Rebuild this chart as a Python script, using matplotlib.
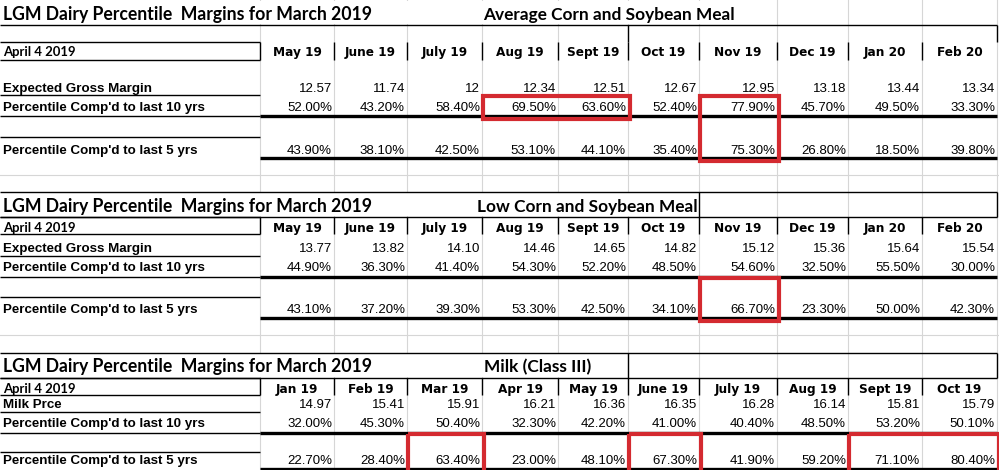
import matplotlib.pyplot as plt
from matplotlib.patches import Rectangle

# ---- sheet content ----
sheet_title = "LGM Dairy Percentile  Margins for March 2019"
as_of = "April 4 2019"
section_names = ["Average Corn and Soybean Meal", "Low Corn and Soybean Meal", "Milk (Class III)"]
price_labels = ["Expected Gross Margin", "Expected Gross Margin", "Milk Prce"]
pct10_label = "Percentile Comp'd to last 10 yrs"
pct5_label = "Percentile Comp'd to last 5 yrs"

feed_months = ["May 19", "June 19", "July 19", "Aug 19", "Sept 19", "Oct 19", "Nov 19", "Dec 19", "Jan 20", "Feb 20"]
milk_months = ["Jan 19", "Feb 19", "Mar 19", "Apr 19", "May 19", "June 19", "July 19", "Aug 19", "Sept 19", "Oct 19"]

avg_margin = [12.57, 11.74, 12, 12.34, 12.51, 12.67, 12.95, 13.18, 13.44, 13.34]
avg_pct10 = [52.0, 43.2, 58.4, 69.5, 63.6, 52.4, 77.9, 45.7, 49.5, 33.3]
avg_pct5 = [43.9, 38.1, 42.5, 53.1, 44.1, 35.4, 75.3, 26.8, 18.5, 39.8]

low_margin = [13.77, 13.82, 14.10, 14.46, 14.65, 14.82, 15.12, 15.36, 15.64, 15.54]
low_pct10 = [44.9, 36.3, 41.4, 54.3, 52.2, 48.5, 54.6, 32.5, 55.5, 30.0]
low_pct5 = [43.1, 37.2, 39.3, 53.3, 42.5, 34.1, 66.7, 23.3, 50.0, 42.3]

milk_price = [14.97, 15.41, 15.91, 16.21, 16.36, 16.35, 16.28, 16.14, 15.81, 15.79]
milk_pct10 = [32.0, 45.3, 50.4, 32.3, 42.2, 41.0, 40.4, 48.5, 53.2, 50.1]
milk_pct5 = [22.7, 28.4, 63.4, 23.0, 48.1, 67.3, 41.9, 59.2, 71.1, 80.4]

data = [
    (feed_months, avg_margin, avg_pct10, avg_pct5, "{:g}"),
    (feed_months, low_margin, low_pct10, low_pct5, "{:.2f}"),
    (milk_months, milk_price, milk_pct10, milk_pct5, "{:.2f}"),
]

# cells circled in red: (section, first row, last row, first col, last col)
highlights = [
    (0, "p10", "p10", 3, 4),
    (0, "p10", "p5", 6, 6),
    (1, "blank", "p5", 6, 6),
    (2, "blank", "p5", 2, 2),
    (2, "blank", "p5", 5, 5),
    (2, "blank", "p5", 8, 9),
]

# ---- sheet geometry (pixels) ----
W, H = 999, 470
col_edges = [260, 334, 407, 482, 558, 628, 699, 777, 848, 922, 997]
right = col_edges[-1]
layout = [
    dict(top=None, title_base=20, title_bottom=25, name_x=483, box=(628, 25, 42),
         head=(42, 60, 56), price=(78, 95, 92), p10=(95, 116, 111), blank=(116, 137, 0), p5=(137, 158, 154)),
    dict(top=192, title_base=212, title_bottom=217, name_x=477, box=(699, 192, 217),
         head=(217, 234, 232), price=(234, 256, 252), p10=(256, 277, 271), blank=(277, 297, 0), p5=(297, 318, 313)),
    dict(top=353, title_base=372, title_bottom=378, name_x=484, box=(628, 353, 378),
         head=(378, 395, 393), price=(395, 412, 408), p10=(412, 433, 427), blank=(433, 452, 0), p5=(452, 469, 464)),
]
gap_lines = [175, 335]

GRID = "#d6d6d6"
RED = "#d42a30"

fig = plt.figure(figsize=(W / 100, H / 100), dpi=100)
ax = fig.add_axes([0, 0, 1, 1])
ax.set_xlim(0, W)
ax.set_ylim(H, 0)
ax.axis("off")
renderer = fig.canvas.get_renderer()


def fit(text, target, **kw):
    # font size that makes `text` span `target` pixels
    t = ax.text(0, 0, text, fontsize=10, **kw)
    w = t.get_window_extent(renderer=renderer).width
    t.remove()
    return 10 * target / w


title_font = dict(family="Lato", weight="bold")
label_font = dict(family="Liberation Sans", weight="bold")
head_font = dict(family="DejaVu Sans", weight="bold")
num_font = dict(family="Liberation Sans")

title_fs = fit(sheet_title, 369, **title_font)
label_fs = fit(pct10_label, 203, **label_font)
head_fs = fit("May 19", 49, **head_font)
num_fs = fit("52.00%", 45, **num_font)
date_fs = fit(as_of, 73, **title_font)

# light spreadsheet gridlines
for x in col_edges:
    ax.plot([x, x], [0, H], color=GRID, lw=0.8, zorder=0)
for y in gap_lines:
    ax.plot([0, W], [y, y], color=GRID, lw=0.8, zorder=0)


def hline(y, x0, x1, lw=1.0):
    ax.plot([x0, x1], [y, y], color="black", lw=lw, solid_capstyle="butt", zorder=3)


def vline(x, y0, y1, lw=1.0):
    ax.plot([x, x], [y0, y1], color="black", lw=lw, solid_capstyle="butt", zorder=3)


for i, (g, (months, price, p10, p5, pfmt)) in enumerate(zip(layout, data)):
    # title row
    title_top = g["top"] if g["top"] is not None else 0
    if g["top"] is not None:
        hline(g["top"], 0, right)
    ax.text(3, g["title_base"], sheet_title, fontsize=title_fs, va="baseline", zorder=4, **title_font)
    t = ax.text(g["name_x"], g["title_base"], section_names[i], fontsize=title_fs * 0.98,
                va="baseline", zorder=4, **title_font)
    x_end = t.get_window_extent(renderer=renderer).x1 + 3
    ax.add_patch(Rectangle((0, title_top + 1), x_end, g["title_bottom"] - title_top - 2,
                           facecolor="white", edgecolor="none", zorder=1))
    hline(g["title_bottom"], 0, right)
    bx, by0, by1 = g["box"]
    vline(bx, by0, by1)
    vline(right, by0, by1)

    # header row
    h0, h1, hb = g["head"]
    hline(h0, 0, col_edges[0])
    hline(h1, 0, col_edges[0])
    for x in col_edges[:-1]:
        vline(x, h0, h1)
    ax.text(3, hb, as_of, fontsize=date_fs, va="baseline", zorder=4, **title_font)
    for j, m in enumerate(months):
        xc = (col_edges[j] + col_edges[j + 1]) / 2
        ax.text(xc, hb, m, fontsize=head_fs, ha="center", va="baseline", zorder=4, **head_font)

    # value rows
    rows = [("price", price_labels[i], [pfmt.format(v) for v in price]),
            ("p10", pct10_label, ["{:.2f}%".format(v) for v in p10]),
            ("p5", pct5_label, ["{:.2f}%".format(v) for v in p5])]
    for key, label, vals in rows:
        r0, r1, rb = g[key]
        ax.text(3, rb, label, fontsize=label_fs, va="baseline", zorder=4, **label_font)
        for j, v in enumerate(vals):
            ax.text(col_edges[j + 1] - 2, rb, v, fontsize=num_fs, ha="right", va="baseline",
                    zorder=4, **num_font)

    hline(g["price"][1], 0, col_edges[0])
    hline(g["p10"][1], 0, col_edges[0])
    hline(g["p10"][1], col_edges[0], right, lw=2.4)
    hline(g["blank"][1], 0, col_edges[0])
    hline(g["p5"][1], col_edges[0], right, lw=2.4)

# red highlight boxes
for sec, ra, rb, c0, c1 in highlights:
    g = layout[sec]
    x0 = col_edges[c0] + 1
    x1 = col_edges[c1 + 1] + 2
    y0 = g[ra][0] + 1
    y1 = g[rb][1] + 3
    ax.add_patch(Rectangle((x0, y0), x1 - x0, y1 - y0, facecolor="none",
                           edgecolor=RED, lw=3.0, zorder=5))

fig.savefig("out.png", dpi=100)
